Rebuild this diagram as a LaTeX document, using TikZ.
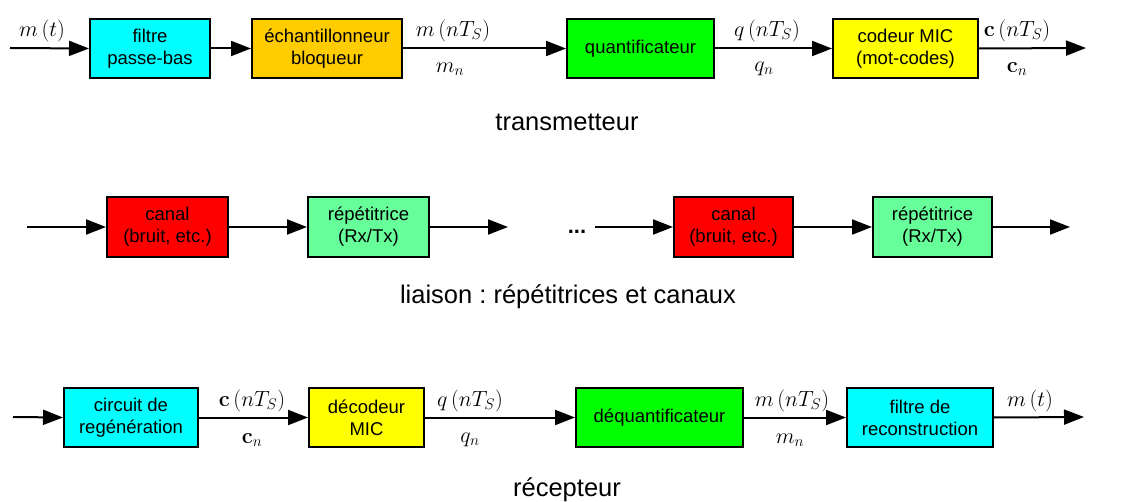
\RequirePackage{fix-cm}
\documentclass[tikz,border=0pt]{standalone}
\usepackage[no-math]{fontspec}
\setmainfont{Liberation Sans}
\usetikzlibrary{arrows.meta}
\frenchspacing
\definecolor{ccyan}{HTML}{00FFFF}
\definecolor{corange}{HTML}{FFCC00}
\definecolor{cgreen}{HTML}{00FF00}
\definecolor{cyellow}{HTML}{FFFF00}
\definecolor{cred}{HTML}{FF0000}
\definecolor{clgreen}{HTML}{66FF99}
\tikzset{
  blk/.style={draw=black, line width=2pt, inner sep=0pt, align=center,
    font=\fontsize{18.5}{22}\selectfont},
  conn/.style={line width=2pt, -{Triangle[length=20pt,width=15pt]}},
  sig/.style={inner sep=0pt, font=\fontsize{22}{26}\selectfont},
  captxt/.style={inner sep=0pt, font=\fontsize{25.5}{30}\selectfont}
}
\begin{document}
\begin{tikzpicture}[x=1pt,y=-1pt]
\useasboundingbox (0,0) rectangle (1137,502);
% row 1
\coordinate (i1) at (10,48);
\node[blk, fill=ccyan, minimum width=120pt, minimum height=59pt] (b1) at (150,48.5) {filtre\\passe-bas};
\node[blk, fill=corange, minimum width=150pt, minimum height=59pt] (b2) at (327,48.5) {échantillonneur\\bloqueur};
\node[blk, fill=cgreen, minimum width=147pt, minimum height=59pt] (b3) at (640.5,48.5) {quantificateur};
\node[blk, fill=cyellow, minimum width=145pt, minimum height=59pt] (b4) at (905.5,48.5) {codeur MIC\\(mot-codes)};
\coordinate (o1) at (1086,48);
\draw[conn] (i1) -- (b1.west);
\draw[conn] (b1.east) -- (b2.west);
\draw[conn] (b2.east) -- (b3.west);
\draw[conn] (b3.east) -- (b4.west);
\draw[conn] (b4.east) -- (o1);
\node[sig] (l1) at (42,31) {$m\left(t\right)$};
\node[sig] (l2) at (453,31) {$m\left(nT_S\right)$};
\node[sig] (l3) at (450,69) {$m_n$};
\node[sig] (l4) at (767,31) {$q\left(nT_S\right)$};
\node[sig] (l5) at (764,69) {$q_n$};
\node[sig] (l6) at (1017,31) {$\mathbf{c}\left(nT_S\right)$};
\node[sig] (l7) at (1017,69) {$\mathbf{c}_n$};
\node[captxt] (t1) at (567,122) {transmetteur};
% row 2
\coordinate (i2) at (27,227);
\node[blk, fill=cred, minimum width=121pt, minimum height=60pt] (c1) at (167.5,227) {canal\\(bruit, etc.)};
\node[blk, fill=clgreen, minimum width=121pt, minimum height=60pt] (r1) at (368.5,227) {répétitrice\\(Rx/Tx)};
\coordinate (m2) at (508,227);
\node[inner sep=0pt, anchor=base, font=\fontsize{22}{26}\selectfont\bfseries] (dots) at (577,234) {...};
\coordinate (s2) at (595,227);
\node[blk, fill=cred, minimum width=119pt, minimum height=60pt] (c2) at (733.5,227) {canal\\(bruit, etc.)};
\node[blk, fill=clgreen, minimum width=119pt, minimum height=60pt] (r2) at (932.5,227) {répétitrice\\(Rx/Tx)};
\coordinate (o2) at (1070,227);
\draw[conn] (i2) -- (c1.west);
\draw[conn] (c1.east) -- (r1.west);
\draw[conn] (r1.east) -- (m2);
\draw[conn] (s2) -- (c2.west);
\draw[conn] (c2.east) -- (r2.west);
\draw[conn] (r2.east) -- (o2);
\node[captxt] (t2) at (568,297) {liaison : répétitrices et canaux};
% row 3
\coordinate (i3) at (13,417);
\node[blk, fill=ccyan, minimum width=134pt, minimum height=59pt] (d1) at (131,417.5) {circuit de\\regénération};
\node[blk, fill=cyellow, minimum width=115pt, minimum height=59pt] (d2) at (366.5,417.5) {décodeur\\MIC};
\node[blk, fill=cgreen, minimum width=167pt, minimum height=59pt] (d3) at (659.5,417.5) {déquantificateur};
\node[blk, fill=ccyan, minimum width=146pt, minimum height=59pt] (d4) at (920,417.5) {filtre de\\reconstruction};
\coordinate (o3) at (1084,417);
\draw[conn] (i3) -- (d1.west);
\draw[conn] (d1.east) -- (d2.west);
\draw[conn] (d2.east) -- (d3.west);
\draw[conn] (d3.east) -- (d4.west);
\draw[conn] (d4.east) -- (o3);
\node[sig] (k1) at (252,401) {$\mathbf{c}\left(nT_S\right)$};
\node[sig] (k2) at (252,440) {$\mathbf{c}_n$};
\node[sig] (k3) at (470,401) {$q\left(nT_S\right)$};
\node[sig] (k4) at (470,440) {$q_n$};
\node[sig] (k5) at (792,401) {$m\left(nT_S\right)$};
\node[sig] (k6) at (790,440) {$m_n$};
\node[sig] (k7) at (1030,401) {$m\left(t\right)$};
\node[captxt] (t3) at (567,490) {récepteur};
\end{tikzpicture}
\end{document}
